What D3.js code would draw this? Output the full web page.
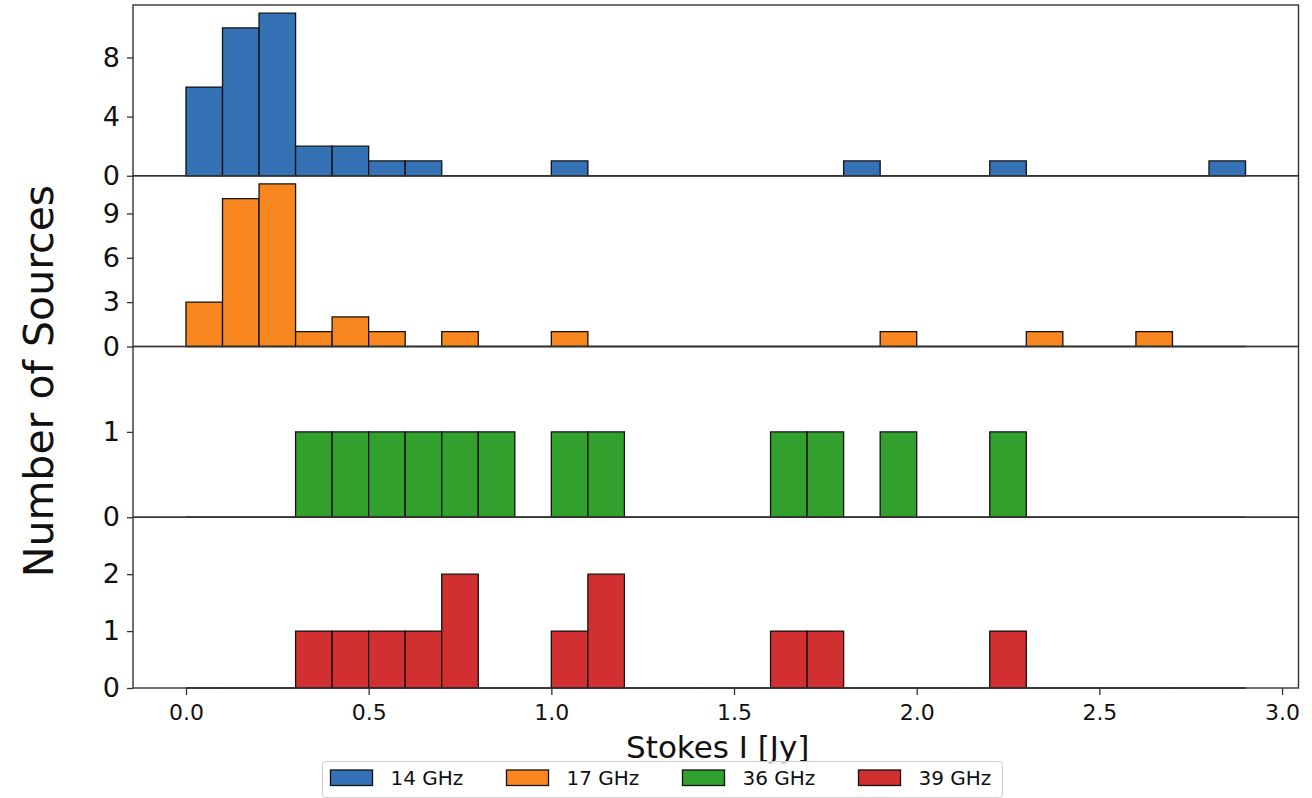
<!DOCTYPE html>
<html>
<head>
<meta charset="utf-8">
<script src="https://cdn.jsdelivr.net/npm/d3@7/dist/d3.min.js"></script>
<style>
  html, body { margin: 0; padding: 0; background: #fff; }
  svg { display: block; font-family: "DejaVu Sans", sans-serif; }
</style>
</head>
<body>
<svg id="chart" width="1312" height="798"></svg>
<script>
// Lower edges of the 0.1 Jy flux-density bins
const binStarts = [0.0, 0.1, 0.2, 0.3, 0.4, 0.5, 0.6, 0.7, 0.8, 0.9,
                   1.0, 1.1, 1.2, 1.3, 1.4, 1.5, 1.6, 1.7, 1.8, 1.9,
                   2.0, 2.1, 2.2, 2.3, 2.4, 2.5, 2.6, 2.7, 2.8];
const binWidth = 0.1;

// Source counts per bin for each band
const counts14 = [6, 10, 11, 2, 2, 1, 1, 0, 0, 0, 1, 0, 0, 0, 0, 0, 0, 0, 1, 0, 0, 0, 1, 0, 0, 0, 0, 0, 1];
const counts17 = [3, 10, 11, 1, 2, 1, 0, 1, 0, 0, 1, 0, 0, 0, 0, 0, 0, 0, 0, 1, 0, 0, 0, 1, 0, 0, 1, 0, 0];
const counts36 = [0, 0, 0, 1, 1, 1, 1, 1, 1, 0, 1, 1, 0, 0, 0, 0, 1, 1, 0, 1, 0, 0, 1, 0, 0, 0, 0, 0, 0];
const counts39 = [0, 0, 0, 1, 1, 1, 1, 2, 0, 0, 1, 2, 0, 0, 0, 0, 1, 1, 0, 0, 0, 0, 1, 0, 0, 0, 0, 0, 0];

const bandLabels = ["14 GHz", "17 GHz", "36 GHz", "39 GHz"];
const bandColors = ["#3571b5", "#f7871e", "#31a02c", "#d23030"];

// Y limits and ticks for each stacked panel
const yMaxes = [11.55, 11.55, 2, 3];
const yTicks = [[0, 4, 8], [0, 3, 6, 9], [0, 1], [0, 1, 2]];

const xDomain = [-0.145, 3.045];
const xTicks = [0.0, 0.5, 1.0, 1.5, 2.0, 2.5, 3.0];

const allCounts = [counts14, counts17, counts36, counts39];

const svg = d3.select("#chart");
const plotLeft = 133, plotRight = 1298.5, plotTop = 5, plotBottom = 688;
const panelH = (plotBottom - plotTop) / allCounts.length;

const x = d3.scaleLinear().domain(xDomain).range([plotLeft, plotRight]);

allCounts.forEach((counts, i) => {
  const y0 = plotTop + i * panelH, y1 = y0 + panelH;
  const y = d3.scaleLinear().domain([0, yMaxes[i]]).range([y1, y0]);
  const g = svg.append("g");

  // Histogram bars (zero-count bins still draw their flat outline)
  g.selectAll("path.bar")
    .data(binStarts.map((b, k) => ({ b, c: counts[k] })))
    .join("path")
    .attr("class", "bar")
    .attr("d", d => {
      const xa = x(d.b), xb = x(d.b + binWidth), ya = y(0), yb = y(d.c);
      return `M${xa},${ya}V${yb}H${xb}V${ya}Z`;
    })
    .attr("fill", bandColors[i])
    .attr("stroke", "#111")
    .attr("stroke-width", 1.3)
    .attr("stroke-linejoin", "miter");

  // Y axis
  const ax = g.append("g")
    .attr("transform", `translate(${plotLeft},0)`)
    .call(d3.axisLeft(y).tickValues(yTicks[i]).tickSize(6).tickPadding(7).tickFormat(d3.format("d")));
  ax.select(".domain").remove();
  ax.selectAll(".tick line").attr("stroke", "#333").attr("stroke-width", 1.3);
  ax.selectAll(".tick text").attr("font-size", 27).attr("fill", "#111")
    .attr("font-family", "DejaVu Sans");

  // Frame for the panel
  g.append("rect")
    .attr("x", plotLeft).attr("y", y0)
    .attr("width", plotRight - plotLeft).attr("height", panelH)
    .attr("fill", "none").attr("stroke", "#333").attr("stroke-width", 1.4);

  if (i === allCounts.length - 1) {
    const xa = g.append("g")
      .attr("transform", `translate(0,${y1})`)
      .call(d3.axisBottom(x).tickValues(xTicks).tickSize(7).tickPadding(9).tickFormat(d3.format(".1f")));
    xa.select(".domain").remove();
    xa.selectAll(".tick line").attr("stroke", "#333").attr("stroke-width", 1.3);
    xa.selectAll(".tick text").attr("font-size", 22).attr("fill", "#111")
      .attr("font-family", "DejaVu Sans");
  }
});

// Axis titles
svg.append("text")
  .attr("transform", `translate(53,381) rotate(-90)`)
  .attr("text-anchor", "middle")
  .attr("font-size", 41)
  .attr("fill", "#111")
  .text("Number of Sources");

svg.append("text")
  .attr("x", (plotLeft + plotRight) / 2 + 2)
  .attr("y", 758)
  .attr("text-anchor", "middle")
  .attr("font-size", 31)
  .attr("fill", "#111")
  .text("Stokes I [Jy]");

// Legend below the plot
const legend = svg.append("g").attr("transform", "translate(322.5,761.5)");
legend.append("rect")
  .attr("width", 680).attr("height", 36).attr("rx", 3)
  .attr("fill", "#fff").attr("fill-opacity", 0.8)
  .attr("stroke", "#ccc").attr("stroke-width", 1);

const item = legend.selectAll("g.item")
  .data(bandLabels)
  .join("g")
  .attr("class", "item")
  .attr("transform", (d, k) => `translate(${8 + k * 176},0)`);
item.append("rect")
  .attr("x", 0).attr("y", 8.5).attr("width", 42).attr("height", 15.5)
  .attr("fill", (d, k) => bandColors[k])
  .attr("stroke", "#111").attr("stroke-width", 1.3);
item.append("text")
  .attr("x", 60).attr("y", 23.5)
  .attr("font-size", 20)
  .attr("fill", "#111")
  .text(d => d);
</script>
</body>
</html>
